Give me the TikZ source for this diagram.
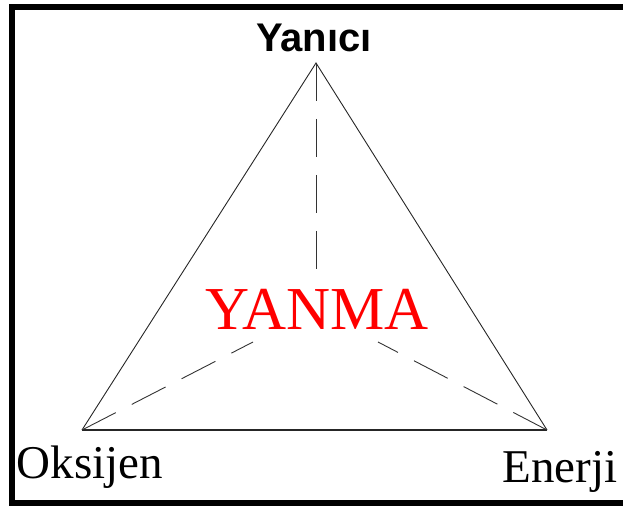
\documentclass[tikz,border=0pt]{standalone}
\usepackage{fontspec}
\setmainfont{Liberation Serif}
\setsansfont{Liberation Sans}
\begin{document}
\begin{tikzpicture}[x=1pt, y=1pt,
  side/.style={line width=0.9pt, black!85},
  link/.style={line width=0.9pt, black!80, dash pattern=on 38pt off 18pt},
  corner/.style={font=\fontsize{47}{47}\selectfont, anchor=base, inner sep=0pt}]
\useasboundingbox (0,0) rectangle (623,506);
\clip (0,0) rectangle (623,506);
\draw[line width=6pt] (650,3) -- (12,3) -- (12,499) -- (650,499);
\coordinate (yanici) at (316,443);
\coordinate (oksijen) at (82,76);
\coordinate (enerji) at (547,76);
\coordinate (ytip) at (316,224);
\coordinate (otip) at (253,164);
\coordinate (etip) at (378,164);
\draw[side] (oksijen) -- (yanici) -- (enerji);
\draw[line width=1.8pt, black!85] (oksijen) -- (enerji);
\draw[link] (yanici) -- (ytip);
\draw[link] (oksijen) -- (otip);
\draw[link] (enerji) -- (etip);
\node[font=\sffamily\bfseries\fontsize{40}{40}\selectfont, anchor=base, inner sep=0pt] (ylabel) at (314,454) {Yanıcı};
\node[corner] (olabel) at (90,28) {Oksijen};
\node[corner] (elabel) at (560,24) {Enerji};
\node[font=\fontsize{61}{61}\selectfont, text=red, anchor=base, inner sep=0pt] (yanma) at (317,176) {YANMA};
\end{tikzpicture}
\end{document}
